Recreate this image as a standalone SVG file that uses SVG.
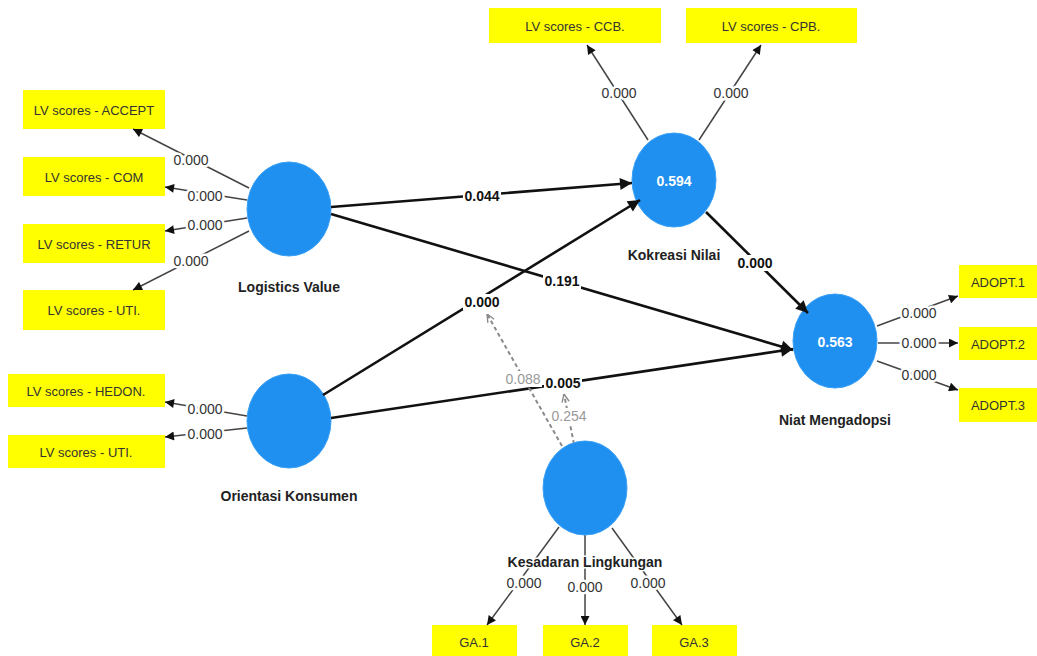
<svg xmlns="http://www.w3.org/2000/svg" width="1037" height="656" viewBox="0 0 1037 656">
<style>
.box{fill:#ffff00}
.bt{font-family:"Liberation Sans",Arial,sans-serif;font-size:13px;fill:#333;text-anchor:middle;dominant-baseline:central}
.lv{fill:#1f8ff0;stroke:#3aa0f5;stroke-width:1}
.nm{font-family:"Liberation Sans",Arial,sans-serif;font-size:14px;font-weight:bold;fill:#222;text-anchor:middle}
.r2{font-family:"Liberation Sans",Arial,sans-serif;font-size:14px;font-weight:bold;fill:#fff;text-anchor:middle;dominant-baseline:central}
.thin{stroke:#444;stroke-width:1.5;fill:none;marker-end:url(#a1)}
.thick{stroke:#111;stroke-width:2.6;fill:none;marker-end:url(#a2)}
.dash{stroke:#8a8a8a;stroke-width:2;stroke-dasharray:4 3;fill:none;marker-end:url(#a3)}
.bg{fill:#fff}
.ld{font-family:"Liberation Sans",Arial,sans-serif;font-size:14px;fill:#333;text-anchor:middle;dominant-baseline:central;stroke:#fff;stroke-width:5;paint-order:stroke}
.pc{font-family:"Liberation Sans",Arial,sans-serif;font-size:14px;font-weight:bold;fill:#111;text-anchor:middle;dominant-baseline:central}
.md{font-family:"Liberation Sans",Arial,sans-serif;font-size:14px;fill:#999;text-anchor:middle;dominant-baseline:central}
</style>
<defs>
<marker id="a1" viewBox="0 0 10 10" refX="10" refY="5" markerWidth="12" markerHeight="9" markerUnits="userSpaceOnUse" orient="auto"><path d="M0,0 L10,5 L0,10 z" fill="#111"/></marker>
<marker id="a2" viewBox="0 0 10 10" refX="10" refY="5" markerWidth="16" markerHeight="12" markerUnits="userSpaceOnUse" orient="auto"><path d="M0,0 L10,5 L0,10 z" fill="#111"/></marker>
<marker id="a3" viewBox="0 0 10 10" refX="10" refY="5" markerWidth="9" markerHeight="9" markerUnits="userSpaceOnUse" orient="auto"><path d="M1,1 L10,5 L1,9" fill="none" stroke="#8a8a8a" stroke-width="1.5"/></marker>
</defs>
<rect width="1037" height="656" fill="#fff"/>

<g id="box-accept"><rect class="box" x="23" y="90" width="142" height="39"/><text class="bt" x="94" y="110">LV scores - ACCEPT</text></g>
<g id="box-com"><rect class="box" x="23" y="157" width="142" height="39"/><text class="bt" x="94" y="177">LV scores - COM</text></g>
<g id="box-retur"><rect class="box" x="23" y="224" width="142" height="39"/><text class="bt" x="94" y="244">LV scores - RETUR</text></g>
<g id="box-uti1"><rect class="box" x="23" y="290" width="142" height="40"/><text class="bt" x="94" y="310">LV scores - UTI.</text></g>
<g id="box-hedon"><rect class="box" x="8" y="374" width="157" height="33"/><text class="bt" x="86" y="391">LV scores - HEDON.</text></g>
<g id="box-uti2"><rect class="box" x="8" y="435" width="157" height="33"/><text class="bt" x="86" y="452">LV scores - UTI.</text></g>
<g id="box-ccb"><rect class="box" x="489" y="8" width="172" height="35"/><text class="bt" x="575" y="26">LV scores - CCB.</text></g>
<g id="box-cpb"><rect class="box" x="686" y="8" width="171" height="35"/><text class="bt" x="771" y="26">LV scores - CPB.</text></g>
<g id="box-adopt1"><rect class="box" x="959" y="265" width="78" height="33"/><text class="bt" x="998" y="282">ADOPT.1</text></g>
<g id="box-adopt2"><rect class="box" x="959" y="327" width="78" height="33"/><text class="bt" x="998" y="344">ADOPT.2</text></g>
<g id="box-adopt3"><rect class="box" x="959" y="388" width="78" height="34"/><text class="bt" x="998" y="405">ADOPT.3</text></g>
<g id="box-ga1"><rect class="box" x="432" y="625" width="85" height="31"/><text class="bt" x="474" y="642">GA.1</text></g>
<g id="box-ga2"><rect class="box" x="543" y="625" width="85" height="31"/><text class="bt" x="585" y="642">GA.2</text></g>
<g id="box-ga3"><rect class="box" x="652" y="625" width="85" height="31"/><text class="bt" x="694" y="642">GA.3</text></g>

<g id="node-lv"><ellipse class="lv" cx="289" cy="209" rx="42" ry="47"/><text class="nm" x="289" y="292">Logistics Value</text></g>
<g id="node-ok"><ellipse class="lv" cx="289" cy="421" rx="42" ry="47"/><text class="nm" x="289" y="501">Orientasi Konsumen</text></g>
<g id="node-kn"><ellipse class="lv" cx="674" cy="180" rx="42" ry="47"/><text class="r2" x="674" y="181">0.594</text><text class="nm" x="674" y="260">Kokreasi Nilai</text></g>
<g id="node-nm"><ellipse class="lv" cx="835" cy="341" rx="42" ry="47"/><text class="r2" x="835" y="342">0.563</text><text class="nm" x="835" y="425">Niat Mengadopsi</text></g>

<g id="connectors">
<line class="thin" x1="249" y1="188" x2="133" y2="129"/>
<line class="thin" x1="247" y1="200" x2="165" y2="187"/>
<line class="thin" x1="247" y1="218" x2="165" y2="231"/>
<line class="thin" x1="249" y1="231" x2="133" y2="290"/>
<line class="thin" x1="247" y1="416" x2="165" y2="402"/>
<line class="thin" x1="247" y1="428" x2="165" y2="437"/>
<line class="thin" x1="648" y1="140" x2="587" y2="45"/>
<line class="thin" x1="699" y1="140" x2="761" y2="45"/>
<line class="thin" x1="877" y1="326" x2="958" y2="296"/>
<line class="thin" x1="878" y1="343" x2="958" y2="343"/>
<line class="thin" x1="877" y1="361" x2="958" y2="390"/>
<line class="thin" x1="559" y1="527" x2="487" y2="625"/>
<line class="thin" x1="585" y1="535" x2="585" y2="625"/>
<line class="thin" x1="612" y1="528" x2="682" y2="625"/>

<line class="thick" x1="331" y1="207" x2="632" y2="183"/>
<line class="thick" x1="331" y1="214" x2="793" y2="350"/>
<line class="thick" x1="323" y1="395" x2="640" y2="200"/>
<line class="thick" x1="331" y1="418" x2="793" y2="349"/>
<line class="thick" x1="706" y1="212" x2="808" y2="313"/>

<line class="dash" x1="562" y1="446" x2="487" y2="314"/>
<line class="dash" x1="574" y1="444" x2="564" y2="394"/>

<text class="ld" x="191" y="160">0.000</text>
<text class="ld" x="205" y="196">0.000</text>
<text class="ld" x="205" y="225">0.000</text>
<text class="ld" x="191" y="261">0.000</text>
<text class="ld" x="205" y="409">0.000</text>
<text class="ld" x="205" y="434">0.000</text>
<text class="ld" x="619" y="93">0.000</text>
<text class="ld" x="731" y="93">0.000</text>
<text class="ld" x="919" y="313">0.000</text>
<text class="ld" x="919" y="343">0.000</text>
<text class="ld" x="919" y="375">0.000</text>
<text class="ld" x="524" y="583">0.000</text>
<text class="ld" x="585" y="587">0.000</text>
<text class="ld" x="648" y="583">0.000</text>

<rect class="bg" x="463" y="188" width="38" height="16"/><text class="pc" x="482" y="196">0.044</text>
<rect class="bg" x="543" y="273" width="38" height="16"/><text class="pc" x="562" y="281">0.191</text>
<rect class="bg" x="463" y="294" width="38" height="16"/><text class="pc" x="482" y="302">0.000</text>
<rect class="bg" x="505" y="371" width="37" height="16"/><text class="md" x="523" y="379">0.088</text>
<rect class="bg" x="544" y="375" width="38" height="16"/><text class="pc" x="563" y="383">0.005</text>
<rect class="bg" x="551" y="408" width="37" height="16"/><text class="md" x="569" y="416">0.254</text>
<rect class="bg" x="736" y="255" width="38" height="16"/><text class="pc" x="755" y="263">0.000</text>
</g>

<g id="node-kl"><ellipse class="lv" cx="585" cy="488" rx="42" ry="47"/><text class="nm" x="585" y="567" stroke="#fff" stroke-width="3" paint-order="stroke">Kesadaran Lingkungan</text></g>
</svg>
